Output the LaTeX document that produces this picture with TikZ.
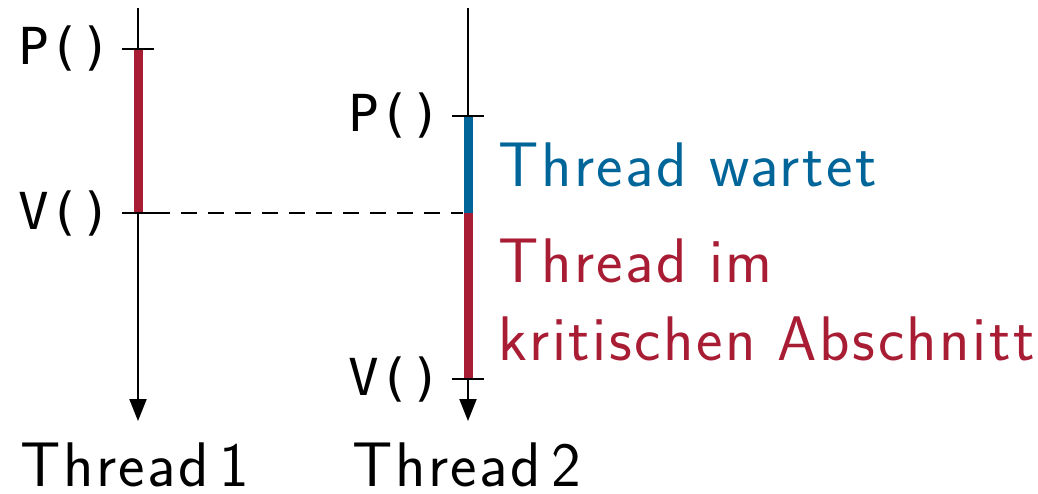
\documentclass[tikz,border=0pt]{standalone}
\usepackage{fontspec}
\setmonofont{DejaVu Sans Mono}
\setsansfont{Latin Modern Sans}[LetterSpace=4]
\usetikzlibrary{arrows.meta}
\definecolor{kitred}{RGB}{168,29,52}
\definecolor{kitblue}{RGB}{0,101,153}
\begin{document}
\begin{tikzpicture}[x=1pt,y=-1pt,
  axis/.style={line width=2pt,-{Triangle[length=22pt,width=17pt]}},
  tick/.style={line width=2pt},
  bar/.style={line width=9pt},
  big/.style={font=\sffamily\fontsize{63}{78}\selectfont,inner sep=0pt},
  call/.style={font=\ttfamily\fontsize{51}{60}\selectfont,inner sep=0pt,anchor=base east}]
\useasboundingbox (0,0) rectangle (1038,494);
% coordinates
\coordinate (t1top) at (138,8);
\coordinate (t1bot) at (138,421);
\coordinate (t2top) at (468,8);
\coordinate (t2bot) at (468,421);
\coordinate (p1) at (138,49);
\coordinate (v1) at (138,213);
\coordinate (p2) at (468,116);
\coordinate (m2) at (468,213);
\coordinate (v2) at (468,379);
% axes
\draw[axis] (t1top) -- (t1bot);
\draw[axis] (t2top) -- (t2bot);
% bars
\draw[bar,kitred] (p1) -- (v1);
\draw[bar,kitblue] (p2) -- (m2);
\draw[bar,kitred] (m2) -- (v2);
% ticks
\foreach \c in {p1,v1,p2,v2}{
  \draw[tick] ([xshift=-16pt]\c) -- ([xshift=16pt]\c);
}
% dashed
\draw[line width=2pt,dash pattern=on 16pt off 11pt] ([xshift=16pt]v1) -- ([xshift=-5pt]m2);
% labels
\node[call] (lp1) at (111,65) {P()};
\node[call] (lv1) at (111,230) {V()};
\node[call] (lp2) at (441,132) {P()};
\node[call] (lv2) at (441,395) {V()};
\node[big,anchor=base west] (th1) at (20,486) {Thread\,1};
\node[big,anchor=base west] (th2) at (352,486) {Thread\,2};
\node[big,anchor=base west,text=kitblue] (tw) at (498,187) {Thread wartet};
\node[big,anchor=base west,text=kitred] (tk1) at (498,282) {Thread im};
\node[big,anchor=base west,text=kitred] (tk2) at (498,360) {kritischen Abschnitt};
\end{tikzpicture}
\end{document}
